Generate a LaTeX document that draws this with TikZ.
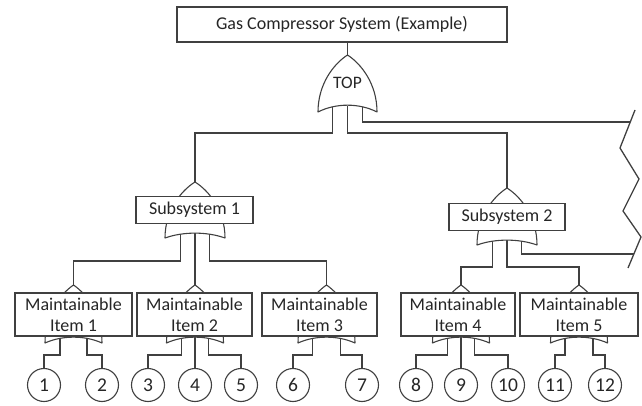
\documentclass[tikz,border=0pt]{standalone}
\usepackage{fontspec}
\setmainfont{Carlito}
\pgfdeclarelayer{wires}
\pgfdeclarelayer{gates}
\pgfsetlayers{wires,gates,main}
\newcommand\orgate[5]{%
  \pgfmathsetmacro\ogX{#1}\pgfmathsetmacro\ogYa{#2}\pgfmathsetmacro\ogYb{#3}%
  \pgfmathsetmacro\ogW{#4}\pgfmathsetmacro\ogD{#5}\pgfmathsetmacro\ogH{#3-#2}%
  \draw[gate] (\ogX-\ogW,\ogYb) .. controls (\ogX-\ogW,\ogYb-0.5*\ogH) and (\ogX-0.45*\ogW,\ogYa+0.15*\ogH) .. (\ogX,\ogYa)
    .. controls (\ogX+0.45*\ogW,\ogYa+0.15*\ogH) and (\ogX+\ogW,\ogYb-0.5*\ogH) .. (\ogX+\ogW,\ogYb)
    .. controls (\ogX+0.4*\ogW,\ogYb-1.3*\ogD) and (\ogX-0.4*\ogW,\ogYb-1.3*\ogD) .. cycle;
}
\begin{document}
\begin{tikzpicture}[x=1pt,y=-1pt,
  wire/.style={draw=black!75,line width=1.1pt},
  gate/.style={draw=black!75,fill=white,line width=1.1pt,line join=round},
  box/.style={draw=black!75,fill=white,line width=1.1pt,inner sep=0pt,text=black!85,
    font=\fontsize{18}{21}\selectfont,align=center},
  item/.style={box,minimum height=43pt},
  evt/.style={circle,draw=black!75,fill=white,line width=1.1pt,minimum size=33pt,inner sep=0pt,
    text=black!85,font=\fontsize{19.5}{22}\selectfont},
  lbl/.style={inner sep=0pt,text=black!85}]
\useasboundingbox (0,0) rectangle (642,406);

% boxes
\node[box,minimum width=330pt,minimum height=35pt] (top) at (342,24.5) {Gas Compressor System (Example)};
\node[lbl,font=\fontsize{17.5}{20}\selectfont] (toplbl) at (347.5,83) {TOP};
\node[box,minimum width=117pt,minimum height=27pt] (s1) at (194.5,210) {Subsystem 1};
\node[box,minimum width=116pt,minimum height=27pt] (s2) at (507,217) {Subsystem 2};
\node[item,minimum width=117pt] (i1) at (73.5,314.5) {Maintainable\\Item 1};
\node[item,minimum width=115pt] (i2) at (194.5,314.5) {Maintainable\\Item 2};
\node[item,minimum width=115pt] (i3) at (319.5,314.5) {Maintainable\\Item 3};
\node[item,minimum width=114pt] (i4) at (458,314.5) {Maintainable\\Item 4};
\node[item,minimum width=118pt] (i5) at (579,314.5) {Maintainable\\Item 5};

% basic events
\node[evt] (c1) at (44,385) {1};
\node[evt] (c2) at (102,385) {2};
\node[evt] (c3) at (148,385) {3};
\node[evt] (c4) at (195,385) {4};
\node[evt] (c5) at (241,385) {5};
\node[evt] (c6) at (293,385) {6};
\node[evt] (c7) at (362,385) {7};
\node[evt] (c8) at (416,385) {8};
\node[evt] (c9) at (461,385) {9};
\node[evt] (c10) at (508,385) {10};
\node[evt] (c11) at (555,385) {11};
\node[evt] (c12) at (605,385) {12};

% gate coordinates
\coordinate (g0a) at (347.5,55);
\coordinate (g0o1) at (332.5,106);
\coordinate (g0o2) at (347.5,106);
\coordinate (g0o3) at (362.5,106);
\coordinate (g1a) at (195,182);
\coordinate (g1o1) at (180.5,233);
\coordinate (g1o2) at (195,233);
\coordinate (g1o3) at (209.5,233);
\coordinate (g2a) at (507,188);
\coordinate (g2o1) at (492.5,240);
\coordinate (g2o2) at (507,240);
\coordinate (g2o3) at (521.5,240);
\coordinate (i1a) at (73.5,285);
\coordinate (i1o1) at (60,337);
\coordinate (i1o2) at (87,337);
\coordinate (i2a) at (195,285);
\coordinate (i2o1) at (181.5,337);
\coordinate (i2o2) at (195,337);
\coordinate (i2o3) at (208.5,337);
\coordinate (i3a) at (326.5,285);
\coordinate (i3o1) at (312.5,337);
\coordinate (i3o2) at (340.5,337);
\coordinate (i4a) at (461,285);
\coordinate (i4o1) at (447.5,337);
\coordinate (i4o2) at (461,337);
\coordinate (i4o3) at (474.5,337);
\coordinate (i5a) at (579,285);
\coordinate (i5o1) at (565,337);
\coordinate (i5o2) at (593,337);
\coordinate (zz1) at (630.3,122);
\coordinate (zz2) at (633.9,254);

\begin{pgfonlayer}{wires}
  \draw[wire] (top.south -| g0a) -- (g0a);
  \draw[wire] (g0o1) -- ++(0,27) -| (g1a);
  \draw[wire] (g0o2) -- ++(0,27) -| (g2a);
  \draw[wire] (g0o3) |- (zz1);
  \draw[wire] (g1o1) -- ++(0,28) -| (i1a);
  \draw[wire] (g1o2) -- (i2a);
  \draw[wire] (g1o3) -- ++(0,28) -| (i3a);
  \draw[wire] (g2o1) -- ++(0,27) -| (i4a);
  \draw[wire] (g2o2) -- ++(0,27) -| (i5a);
  \draw[wire] (g2o3) |- (zz2);
  \draw[wire] (i1o1) -- ++(0,18) -| (c1);
  \draw[wire] (i1o2) -- ++(0,18) -| (c2);
  \draw[wire] (i2o1) -- ++(0,18) -| (c3);
  \draw[wire] (i2o2) -- (c4);
  \draw[wire] (i2o3) -- ++(0,18) -| (c5);
  \draw[wire] (i3o1) -- ++(0,18) -| (c6);
  \draw[wire] (i3o2) -- ++(0,18) -| (c7);
  \draw[wire] (i4o1) -- ++(0,18) -| (c8);
  \draw[wire] (i4o2) -- (c9);
  \draw[wire] (i4o3) -- ++(0,18) -| (c10);
  \draw[wire] (i5o1) -- ++(0,18) -| (c11);
  \draw[wire] (i5o2) -- ++(0,18) -| (c12);
  \draw[wire,line width=1.3pt,line join=miter] (635,110) -- (620,148) -- (639,179) -- (623,211) -- (641,237) -- (628,268);
\end{pgfonlayer}

\begin{pgfonlayer}{gates}
  \orgate{347.5}{55}{112}{29.5}{7}
  \orgate{195}{182}{238}{30}{5}
  \orgate{507}{188}{245}{30}{5}
  \orgate{73.5}{285}{343}{28.5}{6}
  \orgate{195}{285}{343}{28.5}{6}
  \orgate{326.5}{285}{343}{28.5}{6}
  \orgate{461}{285}{343}{28.5}{6}
  \orgate{579}{285}{343}{28.5}{6}
\end{pgfonlayer}
\end{tikzpicture}
\end{document}
